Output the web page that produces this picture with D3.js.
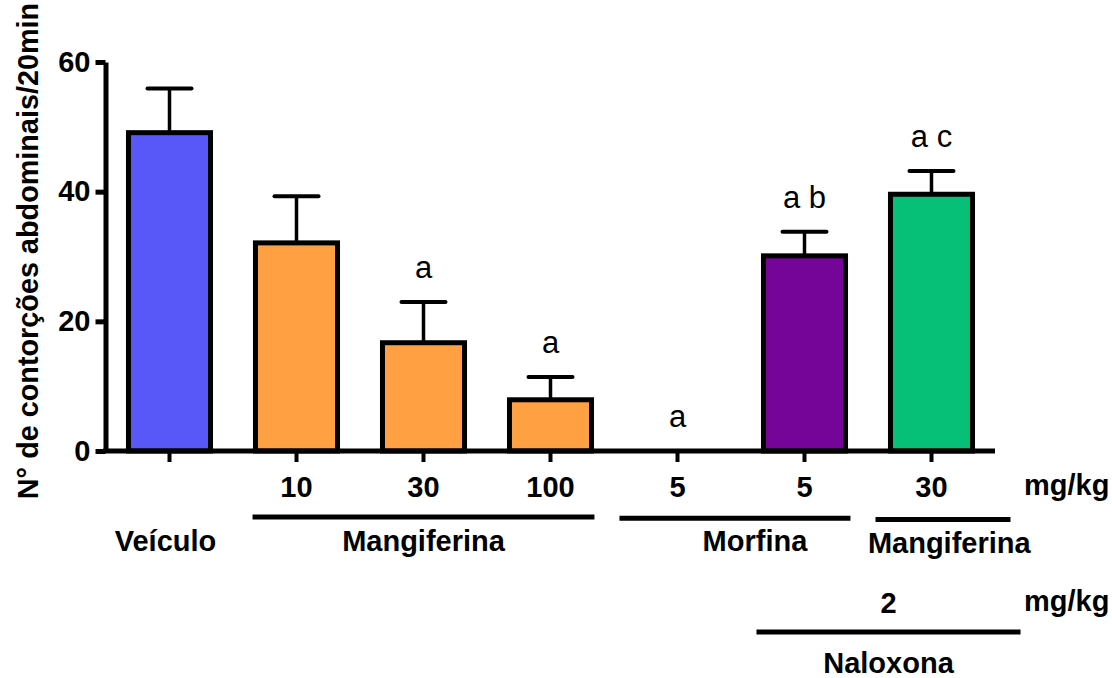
<!DOCTYPE html>
<html>
<head>
<meta charset="utf-8">
<script src="https://cdn.jsdelivr.net/npm/d3@7"></script>
<style>
  html, body { margin: 0; padding: 0; background: #fff; }
  svg { display: block; font-family: "Liberation Sans", Arial, Helvetica, sans-serif; }
</style>
</head>
<body>
<svg id="chart" width="1112" height="678"></svg>
<script>
// Writhing test: number of abdominal contortions in 20 min (mean + SEM)
const groups = ["Veículo", "Mang 10", "Mang 30", "Mang 100", "Morf 5", "Morf 5 + Nal", "Mang 30 + Nal"];
const means = [49.1, 32.1, 16.7, 7.9, 0, 30.1, 39.6];
const sems = [6.8, 7.2, 6.3, 3.5, 0, 3.7, 3.6];
const significance = ["", "", "a", "a", "a", "a b", "a c"];
const doses = ["", "10", "30", "100", "5", "5", "30"];
const fills = ["#5858f8", "#ffa042", "#ffa042", "#ffa042", "#ffa042", "#740598", "#06c078"];
const yTicks = [0, 20, 40, 60];

// Treatment brackets under the axis, in category-index units
const treatmentNames = ["Mangiferina", "Morfina", "Mangiferina"];
const treatmentSpans = [[0.654, 3.346], [3.543, 5.362], [5.559, 6.622]];
const treatmentLabelAt = [2, 4.61, 6.14];
const vehicleLabel = "Veículo";
const naloxoneName = "Naloxona";
const naloxoneDose = "2";
const naloxoneSpan = [4.622, 6.701];
const unitLabel = "mg/kg";
const yTitle = "N° de contorções abdominais/20min";

const svg = d3.select("#chart");

const x = d3.scaleBand()
  .domain(groups)
  .range([106, 995])
  .paddingInner(0.354)
  .paddingOuter(0.177);

const y = d3.scaleLinear().domain([0, 60]).range([451, 62]);

// category index -> bar centre
const xi = d3.scaleLinear()
  .domain([0, groups.length - 1])
  .range([x(groups[0]) + x.bandwidth() / 2, x(groups[groups.length - 1]) + x.bandwidth() / 2]);

// Bars
svg.append("g").selectAll("rect")
  .data(groups)
  .join("rect")
  .attr("x", d => x(d))
  .attr("y", (d, i) => y(means[i]))
  .attr("width", x.bandwidth())
  .attr("height", (d, i) => y(0) - y(means[i]))
  .attr("fill", (d, i) => fills[i])
  .attr("stroke", "#000")
  .attr("stroke-width", 5)
  .style("display", (d, i) => means[i] > 0 ? null : "none");

// Error bars (upper only)
const err = svg.append("g").selectAll("g")
  .data(groups.filter((d, i) => sems[i] > 0))
  .join("g");
err.append("line")
  .attr("x1", d => x(d) + x.bandwidth() / 2)
  .attr("x2", d => x(d) + x.bandwidth() / 2)
  .attr("y1", d => y(means[groups.indexOf(d)]))
  .attr("y2", d => { const i = groups.indexOf(d); return y(means[i] + sems[i]); })
  .attr("stroke", "#000").attr("stroke-width", 3.5);
err.append("line")
  .attr("x1", d => x(d) + x.bandwidth() / 2 - 22)
  .attr("x2", d => x(d) + x.bandwidth() / 2 + 22)
  .attr("y1", d => { const i = groups.indexOf(d); return y(means[i] + sems[i]); })
  .attr("y2", d => { const i = groups.indexOf(d); return y(means[i] + sems[i]); })
  .attr("stroke", "#000").attr("stroke-width", 4).attr("stroke-linecap", "round");

// Significance letters
svg.append("g").selectAll("text")
  .data(groups)
  .join("text")
  .attr("x", d => x(d) + x.bandwidth() / 2)
  .attr("y", (d, i) => y(means[i] + sems[i]) - 24)
  .attr("text-anchor", "middle")
  .attr("font-size", 31)
  .attr("fill", "#000")
  .text((d, i) => significance[i]);

// Y axis
const yAxis = svg.append("g")
  .attr("transform", "translate(105.5,0)")
  .call(d3.axisLeft(y).tickValues(yTicks).tickSize(10).tickSizeOuter(0).tickPadding(5));
yAxis.select(".domain").attr("stroke", "#000").attr("stroke-width", 5);
yAxis.selectAll(".tick line").attr("stroke", "#000").attr("stroke-width", 5);
yAxis.selectAll(".tick text")
  .attr("font-size", 29).attr("font-weight", "bold").attr("fill", "#000")
  .attr("font-family", "Liberation Sans, Arial, sans-serif");

// X axis
const xAxis = svg.append("g")
  .attr("transform", "translate(0,451)")
  .call(d3.axisBottom(x).tickSize(11).tickSizeOuter(0).tickFormat(""));
xAxis.select(".domain").attr("stroke", "#000").attr("stroke-width", 5)
  .attr("d", `M103,0H995`);
xAxis.selectAll(".tick line").attr("stroke", "#000").attr("stroke-width", 4);

// Y title
svg.append("text")
  .attr("transform", "translate(38,251) rotate(-90)")
  .attr("text-anchor", "middle")
  .attr("font-size", 28.8)
  .attr("font-weight", "bold")
  .text(yTitle);

const bold = sel => sel.attr("font-size", 29).attr("font-weight", "bold").attr("fill", "#000");

// Dose row
svg.append("g").selectAll("text")
  .data(groups)
  .join("text")
  .attr("x", d => x(d) + x.bandwidth() / 2)
  .attr("y", 497)
  .attr("text-anchor", "middle")
  .call(bold)
  .text((d, i) => doses[i]);
svg.append("text").attr("x", 1024).attr("y", 495).call(bold).text(unitLabel);

// Treatment brackets
svg.append("g").selectAll("line")
  .data(treatmentSpans)
  .join("line")
  .attr("x1", d => xi(d[0]))
  .attr("x2", d => xi(d[1]))
  .attr("y1", (d, i) => 517 + i * 1.2)
  .attr("y2", (d, i) => 517 + i * 1.2)
  .attr("stroke", "#000").attr("stroke-width", 5);
svg.append("g").selectAll("text")
  .data(treatmentNames)
  .join("text")
  .attr("x", (d, i) => xi(treatmentLabelAt[i]))
  .attr("y", (d, i) => 551 + (i === 2 ? 2 : 0))
  .attr("text-anchor", "middle")
  .call(bold)
  .text(d => d);
svg.append("text").attr("x", xi(0) - 4).attr("y", 551).attr("text-anchor", "middle").call(bold).text(vehicleLabel);

// Naloxone row
svg.append("text").attr("x", xi((naloxoneSpan[0] + naloxoneSpan[1]) / 2)).attr("y", 613)
  .attr("text-anchor", "middle").call(bold).text(naloxoneDose);
svg.append("text").attr("x", 1024).attr("y", 611).call(bold).text(unitLabel);
svg.append("line")
  .attr("x1", xi(naloxoneSpan[0])).attr("x2", xi(naloxoneSpan[1]))
  .attr("y1", 632).attr("y2", 632)
  .attr("stroke", "#000").attr("stroke-width", 5);
svg.append("text").attr("x", xi((naloxoneSpan[0] + naloxoneSpan[1]) / 2)).attr("y", 673)
  .attr("text-anchor", "middle").call(bold).text(naloxoneName);
</script>
</body>
</html>
